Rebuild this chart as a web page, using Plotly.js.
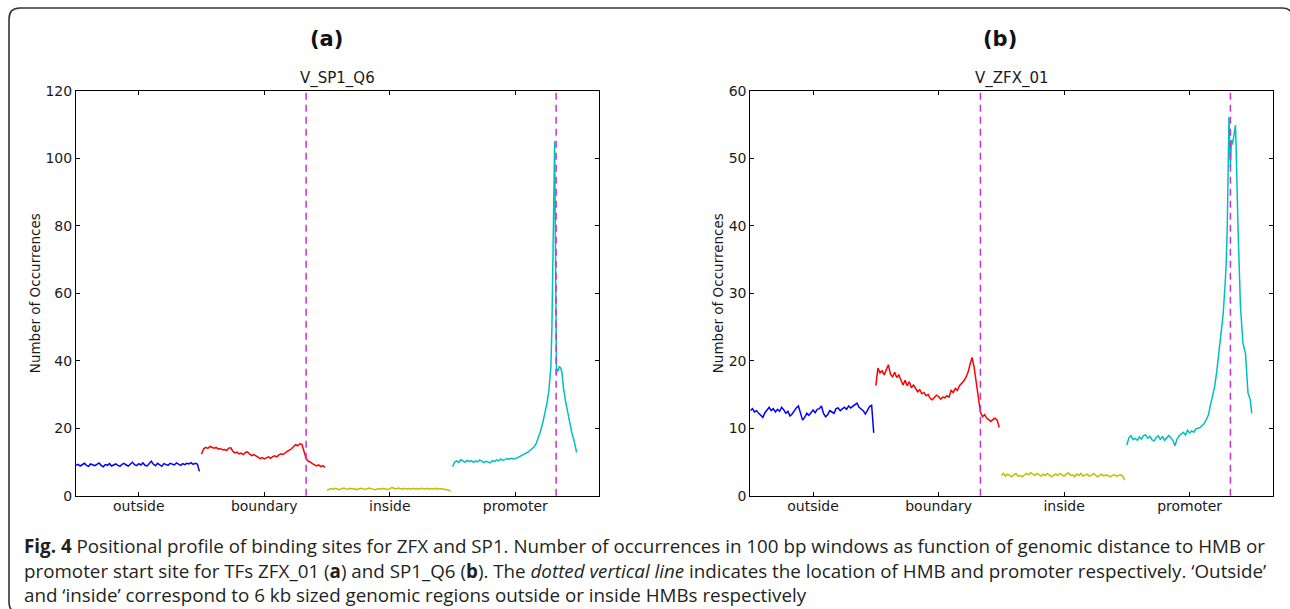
<!DOCTYPE html>
<html><head><meta charset="utf-8">
<script src="https://cdn.plot.ly/plotly-3.0.1.min.js"></script>
<style>html,body{margin:0;padding:0;background:#fff}#chart{width:1290px;height:609px}</style>
</head><body><div id="chart"></div>
<script>
// ---------- axis labels ----------
const tickVals = [30, 90, 150, 210];
const tickText = ['outside', 'boundary', 'inside', 'promoter'];
const regionStart = [0, 60, 120];          // first window of outside / boundary / inside
const markerLines = [110, 229.5];          // HMB and promoter start positions
const panelTitles = ['V_SP1_Q6', 'V_ZFX_01'];
const panelLetters = ['(a)', '(b)'];
const yTitle = 'Number of Occurrences';

// ---------- panel (a): V_SP1_Q6 ----------
const sp1Outside = [9.0,9.3,8.8,9.2,9.6,9.0,8.7,9.4,9.1,8.9,9.3,9.7,9.0,8.6,9.2,9.0,9.5,8.8,9.1,9.4,9.0,8.7,9.3,9.6,9.1,8.8,9.4,9.9,9.2,8.9,9.5,9.1,9.7,9.0,8.8,9.4,10.2,9.3,8.9,9.6,9.2,8.7,9.5,9.3,9.0,9.6,9.4,9.1,9.7,9.3,9.0,9.5,9.2,9.6,9.4,9.8,9.3,9.6,9.4,7.2];
const sp1Boundary = [12.3,13.9,14.3,14.0,14.6,14.4,14.1,14.3,13.8,14.0,13.6,13.7,13.4,14.1,14.2,13.1,12.7,12.9,12.4,12.6,12.2,12.8,13.0,12.3,11.9,12.2,11.7,11.4,11.0,11.3,10.9,11.2,11.5,11.1,11.6,11.8,11.5,12.1,12.4,12.2,12.8,13.1,13.5,13.9,14.6,15.1,14.8,15.4,15.2,13.4,11.0,10.2,10.0,9.5,9.2,8.8,9.1,8.6,8.9,8.4];
const sp1Inside = [1.6,1.9,2.1,1.9,2.2,2.0,1.8,2.1,2.3,2.0,1.9,2.2,2.0,2.1,1.8,2.0,2.2,2.1,1.9,2.0,2.3,2.1,1.9,1.8,2.0,2.1,1.9,2.2,2.0,1.8,2.1,2.4,2.2,2.0,2.3,2.1,1.9,2.2,2.0,2.1,1.9,2.2,2.0,2.1,1.9,2.2,2.1,2.0,2.2,1.9,2.1,2.0,2.2,1.9,2.1,2.0,2.1,1.9,1.7,1.3];
const sp1PromoterX = [180,181,182,183,184,185,186,187,188,189,190,191,192,193,194,195,196,197,198,199,200,201,202,203,204,205,206,207,208,209,210,211,212,213,214,215,216,217,218,219,220,221,222,223,224,225,226,226.6,227,227.5,228,228.4,228.8,229.1,229.4,229.7,230,230.5,231,231.7,232.3,233,234,235,236,237,238,238.7,239.3];
const sp1PromoterY = [8.6,10.0,10.3,9.8,10.7,10.2,9.9,10.5,10.1,10.4,9.9,10.3,10.0,10.6,10.1,9.8,10.2,10.0,9.7,10.4,10.1,10.6,10.3,10.8,10.5,10.7,11.0,10.8,11.1,10.9,11.0,11.2,11.6,11.9,12.3,12.5,12.9,13.4,13.9,14.5,15.5,17.0,19.0,21.3,24.0,27.0,31.0,34.5,38.0,50.0,75.0,95.0,105.0,80.0,50.0,36.0,37.5,37.0,38.3,37.8,36.5,32.0,28.0,24.5,21.5,18.7,16.5,14.5,12.8];

// ---------- panel (b): V_ZFX_01 ----------
const zfxOutside = [12.6,12.9,12.4,12.6,12.2,11.9,11.6,12.3,12.7,13.1,12.6,12.9,12.4,12.8,12.5,13.1,12.7,12.2,12.5,11.8,12.1,12.6,13.0,13.3,12.4,11.2,11.6,12.2,11.9,12.4,12.7,12.3,12.8,12.9,13.3,12.2,11.7,12.0,12.6,12.4,12.2,12.9,13.0,12.6,12.8,13.1,12.8,13.3,13.0,13.2,13.5,13.7,13.1,12.9,12.6,12.1,12.7,13.2,13.4,9.3];
const zfxBoundary = [16.3,18.9,18.2,18.5,17.9,18.8,19.4,18.0,17.6,18.3,17.5,17.9,17.2,16.4,17.1,16.3,16.9,16.0,16.4,15.8,15.4,15.7,15.1,15.3,14.8,15.0,14.4,14.2,14.6,14.9,14.7,14.3,14.6,14.5,14.8,14.6,15.6,15.3,15.9,15.6,16.3,16.6,17.0,17.5,18.2,19.4,20.5,19.0,16.8,15.3,12.4,11.7,12.0,11.5,11.2,11.0,11.3,11.5,11.2,10.1];
const zfxInside = [3.0,3.3,2.9,3.2,3.0,2.8,3.1,3.3,2.9,3.0,2.8,3.0,3.3,3.1,3.4,3.2,3.0,3.3,3.1,2.9,3.2,3.0,3.3,3.1,2.8,3.0,3.2,3.0,3.3,3.1,2.9,3.2,3.4,3.0,3.1,2.8,3.2,3.0,3.3,2.9,3.1,3.2,2.9,3.0,3.3,3.1,2.8,3.0,3.2,2.9,3.1,3.0,2.8,3.0,3.1,2.9,3.0,3.1,2.9,2.3];
const zfxPromoterX = [180,181,182,183,184,185,186,187,188,189,190,191,192,193,194,195,196,197,198,199,200,201,202,203,204,205,206,207,208,209,210,211,212,213,214,215,216,217,218,219,220,221,222,223,224,225,226,227,227.5,228,228.4,228.8,229.1,229.5,230,230.4,231.1,231.6,231.9,232.2,232.6,233.1,234.3,235.5,236.7,237.9,239,239.7];
const zfxPromoterY = [7.5,8.6,8.9,8.3,8.5,8.2,8.7,8.4,8.9,9.0,8.5,8.8,8.3,8.1,8.6,8.9,8.3,8.8,8.2,8.5,8.9,8.6,8.2,7.4,8.4,8.9,9.1,9.4,9.0,9.7,9.3,9.6,9.4,9.9,10.0,10.1,10.4,10.7,11.3,12.0,13.5,15.0,16.2,18.5,21.0,23.5,26.8,31.5,34.5,40.0,48.0,56.1,53.0,48.7,52.7,52.0,53.2,54.2,54.9,52.0,46.0,40.0,28.0,22.6,21.1,15.2,14.2,12.2];

const colors = {outside:'#0000ff', boundary:'#ff0000', inside:'#bfbf00', promoter:'#00bfbf', marker:'#cc33cc'};

function xsFrom(start, vals){ return vals.map((v, i) => start + i); }
function tr(x, y, color, xa, ya){
  return {x:x, y:y, type:'scatter', mode:'lines', line:{color:color, width:1.5},
          xaxis:xa, yaxis:ya, hoverinfo:'skip', showlegend:false};
}

const data = [
  tr(xsFrom(regionStart[0], sp1Outside), sp1Outside, colors.outside, 'x', 'y'),
  tr(xsFrom(regionStart[1], sp1Boundary), sp1Boundary, colors.boundary, 'x', 'y'),
  tr(xsFrom(regionStart[2], sp1Inside), sp1Inside, colors.inside, 'x', 'y'),
  tr(sp1PromoterX, sp1PromoterY, colors.promoter, 'x', 'y'),
  tr(xsFrom(regionStart[0], zfxOutside), zfxOutside, colors.outside, 'x2', 'y2'),
  tr(xsFrom(regionStart[1], zfxBoundary), zfxBoundary, colors.boundary, 'x2', 'y2'),
  tr(xsFrom(regionStart[2], zfxInside), zfxInside, colors.inside, 'x2', 'y2'),
  tr(zfxPromoterX, zfxPromoterY, colors.promoter, 'x2', 'y2')
];

const W = 1290, H = 609;
const tickFont = {family:'DejaVu Sans, sans-serif', size:14, color:'#1a1a1a'};
function xAxis(domain, anchor){
  return {domain:domain, anchor:anchor, range:[0,250], tickmode:'array', tickvals:tickVals, ticktext:tickText,
    ticks:'inside', ticklen:4, tickwidth:1, tickcolor:'#000', showline:true, mirror:'ticks', linecolor:'#000', linewidth:1,
    showgrid:false, zeroline:false, tickfont:tickFont, fixedrange:true, ticklabelstandoff:-3};
}
function yAxis(domain, anchor, max, dt){
  return {domain:domain, anchor:anchor, range:[0,max], tickmode:'linear', tick0:0, dtick:dt,
    ticks:'inside', ticklen:4, tickwidth:1, tickcolor:'#000', showline:true, mirror:'ticks', linecolor:'#000', linewidth:1,
    showgrid:false, zeroline:false, tickfont:tickFont, fixedrange:true,
    title:{text:yTitle, font:{family:'DejaVu Sans, sans-serif', size:13.5, color:'#1a1a1a'}, standoff:1}};
}

const yDom = [1 - 495.7/H, 1 - 90.7/H];
const xDomA = [76/W, 599/W];
const xDomB = [750.3/W, 1273.3/W];

// rounded frame
const fx0 = 9/W, fx1 = 1293/W, fyT = 1 - 8/H, fyB = 1 - 613/H, rx = 11/W, ry = 11/H;
const framePath = `M ${fx0},${fyT-ry} Q ${fx0},${fyT} ${fx0+rx},${fyT} L ${fx1-rx},${fyT} Q ${fx1},${fyT} ${fx1},${fyT-ry} L ${fx1},${fyB+ry} Q ${fx1},${fyB} ${fx1-rx},${fyB} L ${fx0+rx},${fyB} Q ${fx0},${fyB} ${fx0},${fyB+ry} Z`;

const shapes = [{type:'path', xref:'paper', yref:'paper', path:framePath, line:{color:'#333', width:1.6}, fillcolor:'rgba(0,0,0,0)'}];
['x','x2'].forEach(xr => {
  markerLines.forEach(v => shapes.push({type:'line', xref:xr, yref:(xr==='x'?'y':'y2')+' domain', x0:v, x1:v, y0:0, y1:1,
    line:{color:colors.marker, width:1.5, dash:'7px,5px'}}));
});

const capFont = {family:'Open Sans, sans-serif', size:18.8, color:'#231f20'};
const captionLines = [
  '<b>Fig. 4</b> Positional profile of binding sites for ZFX and SP1. Number of occurrences in 100 bp windows as function of genomic distance to HMB or',
  'promoter start site for TFs ZFX_01 (<b>a</b>) and SP1_Q6 (<b>b</b>). The <i>dotted vertical line</i> indicates the location of HMB and promoter respectively. \u2018Outside\u2019',
  'and \u2018inside\u2019 correspond to 6 kb sized genomic regions outside or inside HMBs respectively'
];
const capY = [546, 571, 595];

const annotations = [
  {text:'<b>'+panelLetters[0]+'</b>', x:326.7/W, y:1-39/H, xref:'paper', yref:'paper', showarrow:false, xanchor:'center', yanchor:'middle', font:{family:'DejaVu Sans, sans-serif', size:21, color:'#111'}},
  {text:'<b>'+panelLetters[1]+'</b>', x:1000/W, y:1-39/H, xref:'paper', yref:'paper', showarrow:false, xanchor:'center', yanchor:'middle', font:{family:'DejaVu Sans, sans-serif', size:21, color:'#111'}},
  {text:panelTitles[0], x:337.5/W, y:1-78.5/H, xref:'paper', yref:'paper', showarrow:false, xanchor:'center', yanchor:'middle', font:{family:'DejaVu Sans, sans-serif', size:15, color:'#1a1a1a'}},
  {text:panelTitles[1], x:1011.8/W, y:1-78.5/H, xref:'paper', yref:'paper', showarrow:false, xanchor:'center', yanchor:'middle', font:{family:'DejaVu Sans, sans-serif', size:15, color:'#1a1a1a'}}
];
captionLines.forEach((t, i) => annotations.push({text:t, x:22/W, y:1-capY[i]/H, xref:'paper', yref:'paper', showarrow:false,
  xanchor:'left', yanchor:'middle', align:'left', font:capFont}));

const layout = {
  width:W, height:H, margin:{l:0, r:0, t:0, b:0}, paper_bgcolor:'#fff', plot_bgcolor:'#fff', showlegend:false,
  xaxis:xAxis(xDomA, 'y'), yaxis:yAxis(yDom, 'x', 120, 20),
  xaxis2:xAxis(xDomB, 'y2'), yaxis2:yAxis(yDom, 'x2', 60, 10),
  shapes:shapes, annotations:annotations
};
Plotly.newPlot('chart', data, layout, {displayModeBar:false, staticPlot:true});
</script></body></html>
